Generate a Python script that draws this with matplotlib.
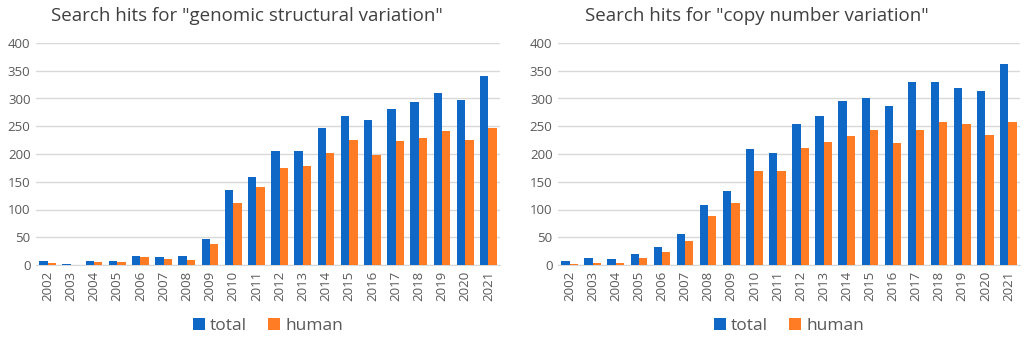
import numpy as np
import matplotlib.pyplot as plt

years = [str(y) for y in range(2002, 2022)]

# genomic structural variation
gsv_total = [7, 1, 7, 7, 16, 15, 16, 46, 135, 159, 205, 206, 247, 269, 262, 281, 293, 310, 298, 341]
gsv_human = [4, 0, 5, 6, 14, 10, 9, 38, 111, 140, 174, 179, 202, 226, 199, 224, 229, 241, 225, 246]

# copy number variation
cnv_total = [7, 12, 11, 20, 33, 56, 109, 134, 209, 202, 254, 269, 295, 300, 286, 330, 330, 319, 314, 362]
cnv_human = [2, 3, 4, 13, 24, 43, 88, 112, 169, 170, 210, 221, 232, 243, 219, 244, 257, 254, 235, 257]

titles = ['Search hits for "genomic structural variation"',
          'Search hits for "copy number variation"']

blue = '#1068c6'
orange = '#ff7c24'
grey = '#595959'

plt.rcParams['font.family'] = ['Open Sans', 'DejaVu Sans']

fig = plt.figure(figsize=(10.24, 3.39), dpi=100)
W, H = 1024, 339
boxes = [(36, 500), (558, 1020)]
title_x = [0.455, 0.43]

x = np.arange(len(years))
w = 0.36
for (x0, x1), title, tx, tot, hum in zip(boxes, titles, title_x,
                                         [gsv_total, cnv_total],
                                         [gsv_human, cnv_human]):
    ax = fig.add_axes([x0 / W, 1 - 265 / H, (x1 - x0) / W, (265 - 43) / H])
    ax.bar(x - w / 2, tot, w, color=blue, label='total', zorder=3)
    ax.bar(x + w / 2, hum, w, color=orange, label='human', zorder=3)
    ax.set_ylim(0, 400)
    ax.set_xlim(-0.5, len(years) - 0.5)
    ax.set_yticks(range(0, 401, 50))
    ax.set_xticks(x)
    ax.set_xticklabels(years, rotation=90)
    ax.grid(axis='y', color='#d9d9d9', linewidth=1, zorder=0)
    for s in ['top', 'right', 'left']:
        ax.spines[s].set_visible(False)
    ax.spines['bottom'].set_color('#d9d9d9')
    ax.tick_params(length=0, labelsize=9.5, colors=grey, pad=4)
    ax.set_title(title, fontsize=13.5, color='#404040', pad=16, x=tx)
    ax.legend(loc='center', bbox_to_anchor=(0.5, -0.275), ncol=2,
              frameon=False, fontsize=12.5, handlelength=0.7, handleheight=0.7,
              columnspacing=1.2, handletextpad=0.3, labelcolor=grey,
              borderpad=0)

fig.savefig('out.png', dpi=100)
